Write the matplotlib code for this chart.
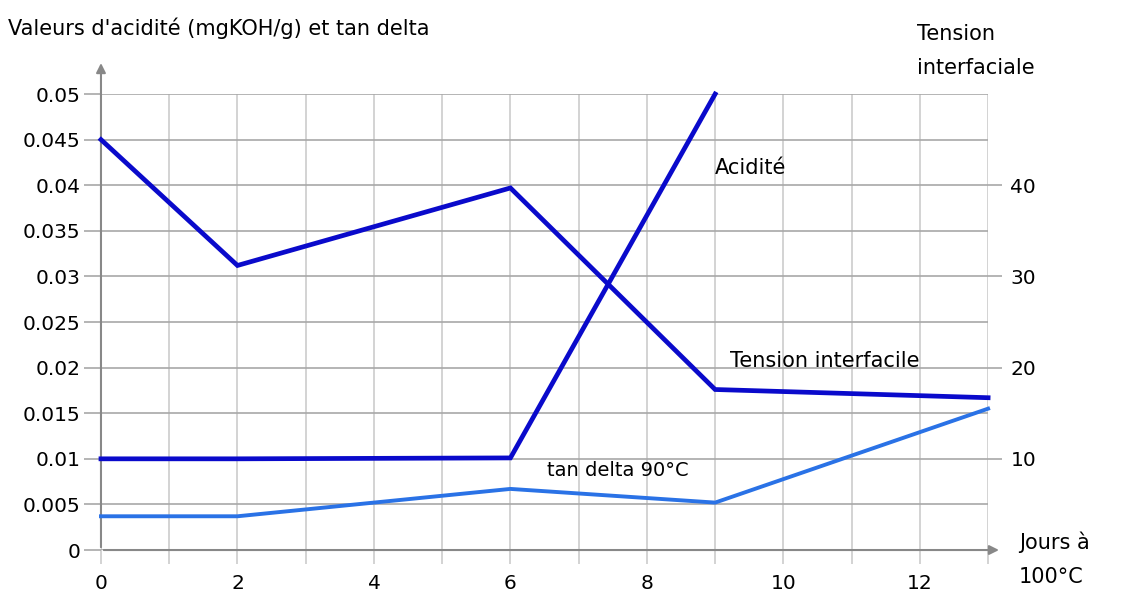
import matplotlib.pyplot as plt

# Données
jours = [0, 2, 6, 9]
acidite = [0.01, 0.01, 0.0101, 0.05]

jours_tension = [0, 2, 6, 9, 13]
tension = [45, 31.2, 39.7, 17.6, 16.7]

jours_tan = [0, 2, 6, 9, 13]
tan_delta = [0.0037, 0.0037, 0.0067, 0.0052, 0.0155]

x_labels = [0, 2, 4, 6, 8, 10, 12]
y_left_ticks = [0, 0.005, 0.01, 0.015, 0.02, 0.025, 0.03, 0.035, 0.04, 0.045, 0.05]
y_left_labels = ["0", "0.005", "0.01", "0.015", "0.02", "0.025", "0.03",
                 "0.035", "0.04", "0.045", "0.05"]
y_right_ticks = [10, 20, 30, 40]

dark_blue = "#0a0acb"
light_blue = "#2a72e6"

plt.rcParams["font.family"] = ["DejaVu Sans"]

fig = plt.figure(figsize=(11.41, 6.0), dpi=100)
ax = fig.add_axes([0.0885, 0.0833, 0.7775, 0.76])

ax.set_xlim(0, 13)
ax.set_ylim(0, 0.05)

# Grille
ax.set_xticks(range(0, 14))
ax.set_xticklabels([str(i) if i in x_labels else "" for i in range(0, 14)])
ax.set_yticks(y_left_ticks)
ax.set_yticklabels(y_left_labels)
ax.grid(True, axis="y", color="#a8a8a8", linewidth=1.2)
ax.grid(True, axis="x", color="#cccccc", linewidth=1.2)
ax.set_axisbelow(True)

for s in ["top", "right", "left", "bottom"]:
    ax.spines[s].set_visible(False)

ax.tick_params(axis="x", length=10, color="#cccccc", width=1.2, pad=7, labelsize=14.5)
ax.tick_params(axis="y", length=12, color="#a8a8a8", width=1.2, pad=3, labelsize=14.5)

# Axes avec flèches
ax.annotate("", xy=(0, 0.0537), xytext=(0, 0), xycoords="data",
            arrowprops=dict(arrowstyle="-|>", color="#888888", lw=1.5,
                            mutation_scale=14),
            annotation_clip=False)
ax.annotate("", xy=(13.2, 0), xytext=(0, 0), xycoords="data",
            arrowprops=dict(arrowstyle="-|>", color="#888888", lw=1.5,
                            mutation_scale=14),
            annotation_clip=False)

# Courbes
ax.plot(jours, acidite, color=dark_blue, linewidth=3.4, solid_joinstyle="miter",
        clip_on=False, zorder=3)
ax.plot(jours_tan, tan_delta, color=light_blue, linewidth=2.8, clip_on=False, zorder=3)

ax2 = ax.twinx()
ax2.set_ylim(0, 50)
ax2.set_yticks(y_right_ticks)
for s in ["top", "right", "left", "bottom"]:
    ax2.spines[s].set_visible(False)
ax2.tick_params(axis="y", length=10, color="#a8a8a8", width=1.2, pad=6, labelsize=14.5)
ax2.plot(jours_tension, tension, color=dark_blue, linewidth=3.4,
         solid_joinstyle="miter", clip_on=False, zorder=3)

# Étiquettes des courbes
ax.text(9.0, 0.0419, "Acidité", fontsize=15, va="center", ha="left")
ax.text(9.22, 0.0207, "Tension interfacile", fontsize=15, va="center", ha="left")
ax.text(7.57, 0.0087, "tan delta 90°C", fontsize=14, va="center", ha="center")

# Titres des axes
fig.text(0.007, 0.953, "Valeurs d'acidité (mgKOH/g) et tan delta", fontsize=15,
         va="center", ha="left")
fig.text(0.804, 0.915, "Tension\ninterfaciale", fontsize=15, va="center", ha="left",
         linespacing=1.85)
fig.text(0.893, 0.068, "Jours à\n100°C", fontsize=15, va="center", ha="left",
         linespacing=1.85)

fig.savefig("out.png", dpi=100)
